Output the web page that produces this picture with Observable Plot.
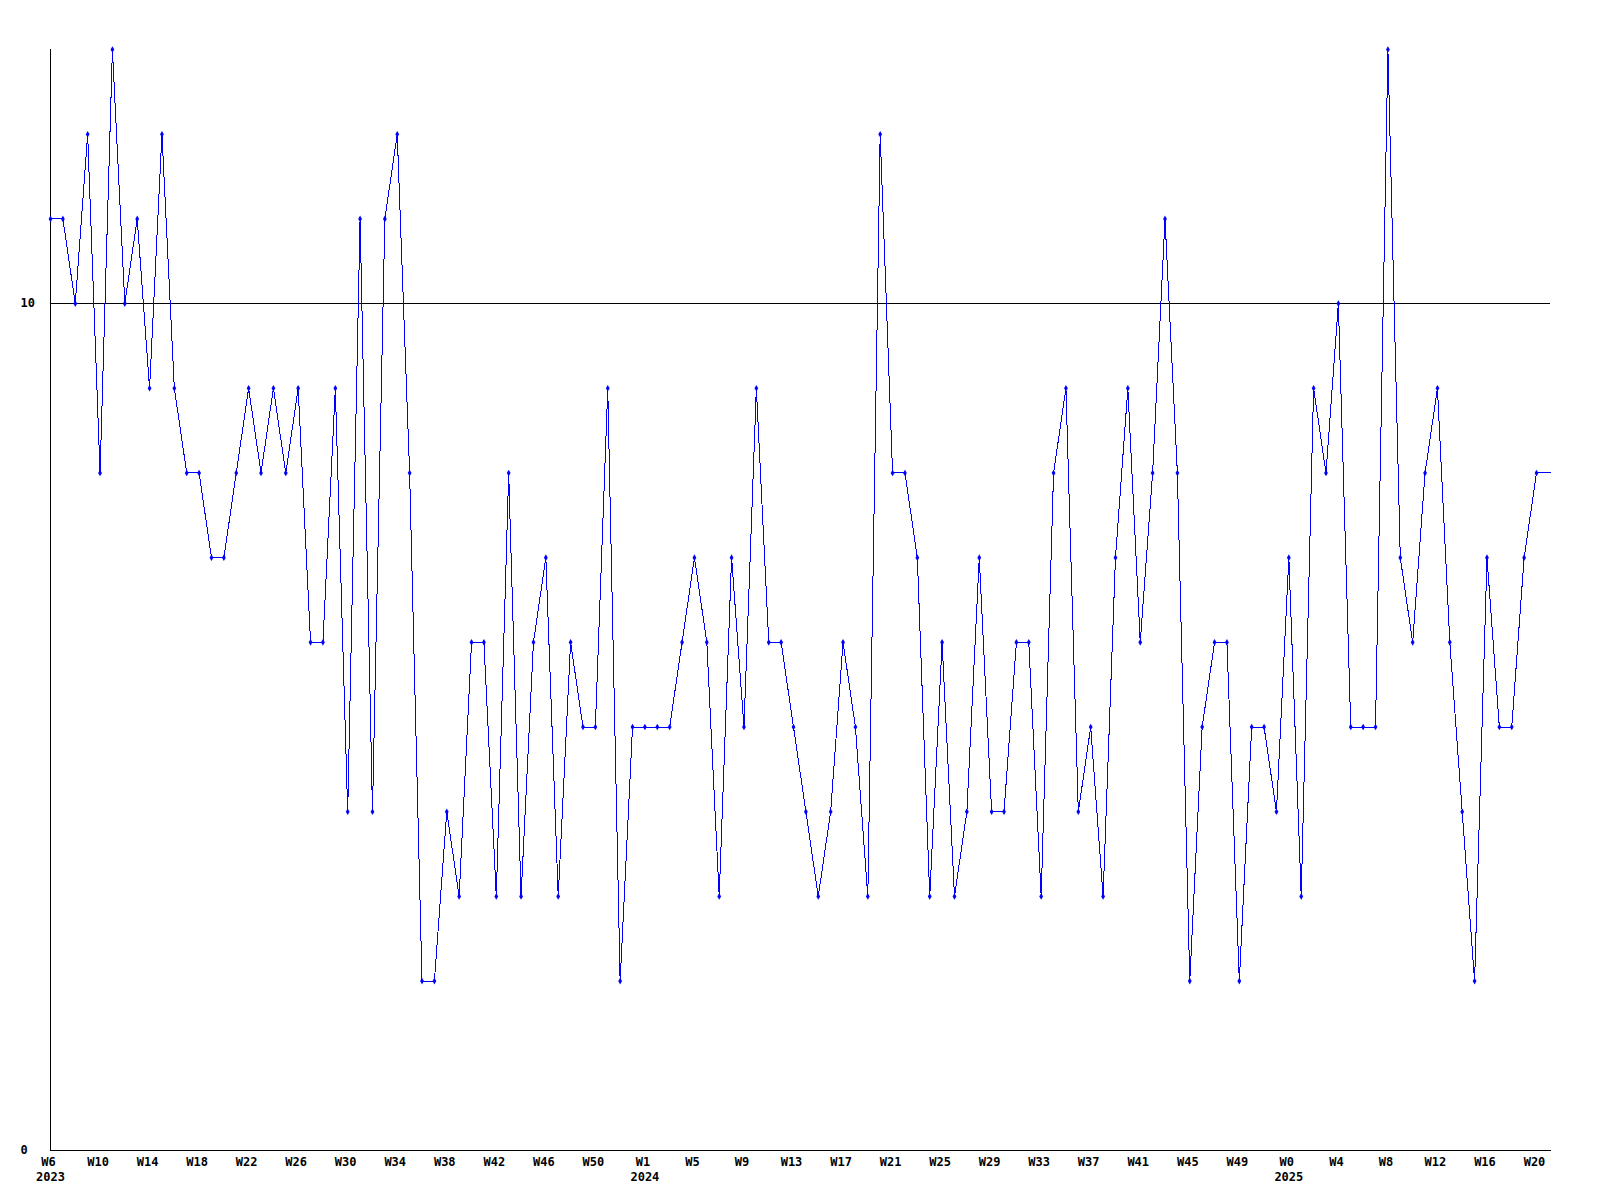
<!DOCTYPE html>
<html><head><meta charset="utf-8">
<script src="https://cdn.jsdelivr.net/npm/d3@7"></script>
<script src="https://cdn.jsdelivr.net/npm/@observablehq/plot@0.6"></script>
<style>body{margin:0;background:#fff} svg{display:block}</style>
</head><body><div id="chart"></div>
<script>
// Weekly values, one per week starting at W6 2023
const values = [
  11, 11, 10, 12, 8, 13, 10, 11, 9, 12,
  9, 8, 8, 7, 7, 8, 9, 8, 9, 8,
  9, 6, 6, 9, 4, 11, 4, 11, 12, 8,
  2, 2, 4, 3, 6, 6, 3, 8, 3, 6,
  7, 3, 6, 5, 5, 9, 2, 5, 5, 5,
  5, 6, 7, 6, 3, 7, 5, 9, 6, 6,
  5, 4, 3, 4, 6, 5, 3, 12, 8, 8,
  7, 3, 6, 3, 4, 7, 4, 4, 6, 6,
  3, 8, 9, 4, 5, 3, 7, 9, 6, 8,
  11, 8, 2, 5, 6, 6, 2, 5, 5, 4,
  7, 3, 9, 8, 10, 5, 5, 5, 13, 7,
  6, 8, 9, 6, 4, 2, 7, 5, 5, 7,
  8
];

// Tick labels, one every 4 weeks
const weekLabels = [
  "W6", "W10", "W14", "W18", "W22", "W26", "W30", "W34", "W38", "W42", "W46", "W50",
  "W1", "W5", "W9", "W13", "W17", "W21", "W25", "W29", "W33", "W37", "W41", "W45", "W49",
  "W0", "W4", "W8", "W12", "W16", "W20"
];
const years = ["2023", "2024", "2025"];
const yearStartLabel = ["W6", "W1", "W0"]; // first week label of each year (in order)

const yTicks = [0, 10];
const yGrid = [10];

const weeksPerTick = 4;
const xEnd = 121.13;

// Build structures
const pts = values.map((v, i) => ({i, v}));
const lineData = pts.concat([{i: xEnd, v: values[values.length - 1]}]);
const tickX = weekLabels.map((_, k) => k * weeksPerTick);
const weekByX = new Map(tickX.map((x, k) => [x, weekLabels[k]]));
const yearTicks = [];
const yearByX = new Map();
let from = 0;
years.forEach((yr, j) => {
  const k = weekLabels.indexOf(yearStartLabel[j], from);
  from = k + 1;
  yearTicks.push(tickX[k]);
  yearByX.set(tickX[k], yr);
});

const font = "'DejaVu Sans Mono', monospace";

const chart = Plot.plot({
  width: 1600,
  height: 1200,
  marginLeft: 50,
  marginRight: 50,
  marginTop: 49,
  marginBottom: 50,
  style: {fontFamily: font, fontSize: "12px", fontWeight: "bold", background: "white", color: "black"},
  x: {domain: [0, xEnd], axis: null},
  y: {domain: [0, 13], axis: null},
  marks: [
    Plot.gridY(yGrid, {stroke: "black", strokeOpacity: 1, shapeRendering: "crispEdges"}),
    Plot.frame({anchor: "left", stroke: "black", shapeRendering: "crispEdges"}),
    Plot.frame({anchor: "bottom", stroke: "black", shapeRendering: "crispEdges"}),
    Plot.axisY(yTicks, {tickSize: 0, tickPadding: 0, textAnchor: "start", dx: -30, fill: "black", label: null, tickFormat: d => String(d)}),
    Plot.axisX(tickX, {tickSize: 0, tickPadding: 7, dx: -2, tickFormat: d => weekByX.get(d), fill: "black", label: null}),
    Plot.axisX(yearTicks, {tickSize: 0, tickPadding: 22, tickFormat: d => yearByX.get(d), fill: "black", label: null}),
    Plot.line(lineData, {x: "i", y: "v", stroke: "#0000ff", strokeWidth: 1, shapeRendering: "crispEdges"}),
    Plot.dot(pts, {x: "i", y: "v", symbol: "diamond", r: 2, fill: "#0000ff", stroke: "none"})
  ]
});
document.getElementById("chart").appendChild(chart);
</script>
</body></html>
